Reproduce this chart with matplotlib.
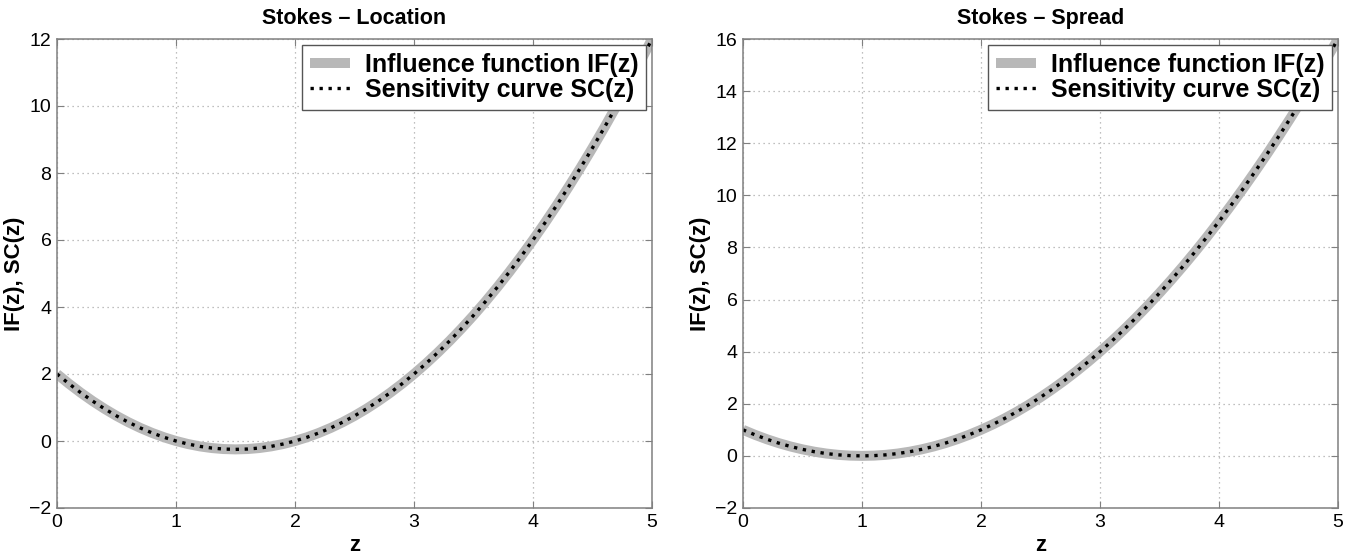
import matplotlib.pyplot as plt
from matplotlib.ticker import MultipleLocator

plt.rcParams['font.family'] = ['Liberation Sans', 'DejaVu Sans']

# values, z step 0.1
z = [0.0, 0.1, 0.2, 0.3, 0.4, 0.5, 0.6, 0.7, 0.8, 0.9,
     1.0, 1.1, 1.2, 1.3, 1.4, 1.5, 1.6, 1.7, 1.8, 1.9,
     2.0, 2.1, 2.2, 2.3, 2.4, 2.5, 2.6, 2.7, 2.8, 2.9,
     3.0, 3.1, 3.2, 3.3, 3.4, 3.5, 3.6, 3.7, 3.8, 3.9,
     4.0, 4.1, 4.2, 4.3, 4.4, 4.5, 4.6, 4.7, 4.8, 4.9, 5.0]

loc_if = [2.00, 1.71, 1.44, 1.19, 0.96, 0.75, 0.56, 0.39, 0.24, 0.11,
          0.00, -0.09, -0.16, -0.21, -0.24, -0.25, -0.24, -0.21, -0.16, -0.09,
          0.00, 0.11, 0.24, 0.39, 0.56, 0.75, 0.96, 1.19, 1.44, 1.71,
          2.00, 2.31, 2.64, 2.99, 3.36, 3.75, 4.16, 4.59, 5.04, 5.51,
          6.00, 6.51, 7.04, 7.59, 8.16, 8.75, 9.36, 9.99, 10.64, 11.31, 12.00]
loc_sc = [2.00, 1.71, 1.44, 1.19, 0.96, 0.75, 0.56, 0.39, 0.24, 0.11,
          0.00, -0.09, -0.16, -0.21, -0.24, -0.25, -0.24, -0.21, -0.16, -0.09,
          0.00, 0.11, 0.24, 0.39, 0.56, 0.75, 0.96, 1.19, 1.44, 1.71,
          2.00, 2.31, 2.64, 2.99, 3.36, 3.75, 4.16, 4.59, 5.04, 5.51,
          6.00, 6.51, 7.04, 7.59, 8.16, 8.75, 9.36, 9.99, 10.64, 11.31, 12.00]

spr_if = [1.00, 0.81, 0.64, 0.49, 0.36, 0.25, 0.16, 0.09, 0.04, 0.01,
          0.00, 0.01, 0.04, 0.09, 0.16, 0.25, 0.36, 0.49, 0.64, 0.81,
          1.00, 1.21, 1.44, 1.69, 1.96, 2.25, 2.56, 2.89, 3.24, 3.61,
          4.00, 4.41, 4.84, 5.29, 5.76, 6.25, 6.76, 7.29, 7.84, 8.41,
          9.00, 9.61, 10.24, 10.89, 11.56, 12.25, 12.96, 13.69, 14.44, 15.21, 16.00]
spr_sc = [1.00, 0.81, 0.64, 0.49, 0.36, 0.25, 0.16, 0.09, 0.04, 0.01,
          0.00, 0.01, 0.04, 0.09, 0.16, 0.25, 0.36, 0.49, 0.64, 0.81,
          1.00, 1.21, 1.44, 1.69, 1.96, 2.25, 2.56, 2.89, 3.24, 3.61,
          4.00, 4.41, 4.84, 5.29, 5.76, 6.25, 6.76, 7.29, 7.84, 8.41,
          9.00, 9.61, 10.24, 10.89, 11.56, 12.25, 12.96, 13.69, 14.44, 15.21, 16.00]

W, H = 1346, 557
fig = plt.figure(figsize=(W / 100, H / 100), dpi=100)

panels = [
    ("Stokes \u2013 Location", loc_if, loc_sc, (-2, 12), 57),
    ("Stokes \u2013 Spread", spr_if, spr_sc, (-2, 16), 743),
]

for title, yif, ysc, ylim, left in panels:
    ax = fig.add_axes([left / W, 49 / H, 595 / W, 469 / H])
    ax.plot(z, yif, color='#b8b8b8', lw=7.2, solid_capstyle='butt',
            label='Influence function IF(z)')
    ax.plot(z, ysc, color='black', lw=2.4, linestyle=(0, (1, 1.7)),
            label='Sensitivity curve SC(z)')
    ax.set_xlim(0, 5)
    ax.set_ylim(*ylim)
    ax.xaxis.set_major_locator(MultipleLocator(1))
    ax.yaxis.set_major_locator(MultipleLocator(2))
    ax.grid(True, linestyle=(0, (1, 3)), color='#aaaaaa', lw=0.9)
    ax.tick_params(direction='in', top=True, right=True, labelsize=14,
                   length=5, color='#808080', pad=4)
    for s in ax.spines.values():
        s.set_color('#808080')
        s.set_linewidth(1.1)
    ax.set_title(title, fontsize=15.5, fontweight='bold', pad=11)
    ax.set_xlabel('z', fontsize=16, fontweight='bold', labelpad=3)
    ax.set_ylabel('IF(z), SC(z)', fontsize=16, fontweight='bold', labelpad=3)
    leg = ax.legend(loc='upper right', prop={'size': 18, 'weight': 'bold'},
                    fancybox=False, edgecolor='#555555', framealpha=1,
                    borderaxespad=0.25, handlelength=1.6, handletextpad=0.6,
                    labelspacing=0.05, borderpad=0.3)
    leg.get_frame().set_linewidth(1.0)

fig.savefig('out.png', dpi=100)
